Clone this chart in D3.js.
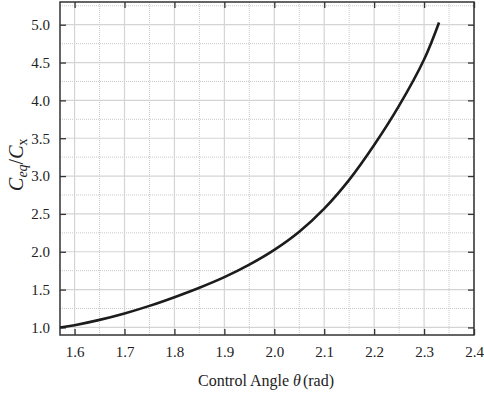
<!DOCTYPE html>
<html>
<head>
<meta charset="utf-8">
<script src="https://cdn.jsdelivr.net/npm/d3@7"></script>
<style>
  body { margin: 0; background: #fff; }
</style>
</head>
<body>
<div id="graph"></div>
<script>
// control angle (rad) and equivalent-to-x ratio
let theta = [1.5708, 1.60, 1.65, 1.70, 1.75, 1.80, 1.85, 1.90, 1.95, 2.00,
             2.05, 2.10, 2.15, 2.20, 2.25, 2.30, 2.33];
let ratio = [1.00, 1.03, 1.10, 1.185, 1.285, 1.40, 1.525, 1.665, 1.83, 2.025,
             2.265, 2.57, 2.95, 3.41, 3.93, 4.54, 5.03];

let xTicks = [1.6, 1.7, 1.8, 1.9, 2.0, 2.1, 2.2, 2.3, 2.4];
let yTicks = [1.0, 1.5, 2.0, 2.5, 3.0, 3.5, 4.0, 4.5, 5.0];
let xMinor = [1.65, 1.75, 1.85, 1.95, 2.05, 2.15, 2.25, 2.35];
let yMinor = [1.25, 1.75, 2.25, 2.75, 3.25, 3.75, 4.25, 4.75, 5.25];

let serif = "'Liberation Serif', 'Times New Roman', Times, 'DejaVu Serif', serif";

let width = 484, height = 398;
let margin = {left: 60, right: 10, top: 2, bottom: 63};
let w = width - margin.left - margin.right,
    h = height - margin.top - margin.bottom;

let svg = d3.select("#graph")
    .append("svg")
    .attr("width", width)
    .attr("height", height)
    .append("g")
    .attr("transform", `translate(${margin.left},${margin.top})`);

let x = d3.scaleLinear().domain([Math.PI / 2, 2.4]).range([0, w]);
let y = d3.scaleLinear().domain([0.9, 5.3]).range([h, 0]);

// minor grid, dotted
svg.append("g").selectAll("line").data(xMinor).enter().append("line")
    .attr("x1", d => x(d)).attr("x2", d => x(d))
    .attr("y1", 0).attr("y2", h)
    .attr("stroke", "#c8c8c8").attr("stroke-width", 1)
    .attr("stroke-dasharray", "1,1");
svg.append("g").selectAll("line").data(yMinor).enter().append("line")
    .attr("x1", 0).attr("x2", w)
    .attr("y1", d => y(d)).attr("y2", d => y(d))
    .attr("stroke", "#c8c8c8").attr("stroke-width", 1)
    .attr("stroke-dasharray", "1,1");

// major grid
svg.append("g").selectAll("line").data(xTicks).enter().append("line")
    .attr("x1", d => x(d)).attr("x2", d => x(d))
    .attr("y1", 0).attr("y2", h)
    .attr("stroke", "#d4d4d4").attr("stroke-width", 1.2);
svg.append("g").selectAll("line").data(yTicks).enter().append("line")
    .attr("x1", 0).attr("x2", w)
    .attr("y1", d => y(d)).attr("y2", d => y(d))
    .attr("stroke", "#d4d4d4").attr("stroke-width", 1.2);

// axes with inward ticks on all four sides
let fmt = d3.format(".1f");
function styleAxis(g) {
    g.attr("font-family", serif).attr("font-size", 15);
    g.select(".domain").remove();
    g.selectAll(".tick line").attr("stroke", "#333").attr("stroke-width", 1.3);
    g.selectAll("text").attr("fill", "#222");
}
svg.append("g").attr("transform", `translate(0,${h})`)
    .call(d3.axisBottom(x).tickValues(xTicks).tickFormat(fmt).tickSizeInner(-6).tickPadding(11))
    .call(styleAxis);
svg.append("g")
    .call(d3.axisTop(x).tickValues(xTicks).tickFormat("").tickSizeInner(-6))
    .call(styleAxis);
svg.append("g")
    .call(d3.axisLeft(y).tickValues(yTicks).tickFormat(fmt).tickSizeInner(-6).tickPadding(10))
    .call(styleAxis);
svg.append("g").attr("transform", `translate(${w},0)`)
    .call(d3.axisRight(y).tickValues(yTicks).tickFormat("").tickSizeInner(-6))
    .call(styleAxis);

// frame
svg.append("rect")
    .attr("x", 0).attr("y", 0).attr("width", w).attr("height", h)
    .attr("fill", "none").attr("stroke", "#333").attr("stroke-width", 1.5);

// curve
let data = theta.map((t, i) => ({t: t, r: ratio[i]}));
let line = d3.line()
    .x(d => x(d.t))
    .y(d => y(d.r))
    .curve(d3.curveCatmullRom);
svg.append("path")
    .datum(data)
    .attr("d", line)
    .attr("fill", "none")
    .attr("stroke", "#1c1c1c")
    .attr("stroke-width", 2.6);

// axis titles
let xt = svg.append("text")
    .attr("x", w / 2 - 1)
    .attr("y", h + 51)
    .attr("font-family", serif)
    .attr("fill", "#222")
    .style("text-anchor", "middle")
    .style("font-size", "16px");
xt.append("tspan").text("Control Angle ");
xt.append("tspan").style("font-style", "italic").text("θ");
xt.append("tspan").attr("dx", 2).text("(rad)");

let yt = svg.append("text")
    .attr("transform", `translate(${-37},${y(3.15)}) rotate(-90)`)
    .attr("font-family", serif)
    .attr("fill", "#222")
    .style("text-anchor", "middle")
    .style("font-size", "20px");
yt.append("tspan").style("font-style", "italic").text("C");
yt.append("tspan").style("font-style", "italic").style("font-size", "14px").attr("dy", 4).text("eq");
yt.append("tspan").attr("dy", -4).text("/");
yt.append("tspan").style("font-style", "italic").text("C");
yt.append("tspan").style("font-size", "14px").attr("dy", 4).text("x");
</script>
</body>
</html>
